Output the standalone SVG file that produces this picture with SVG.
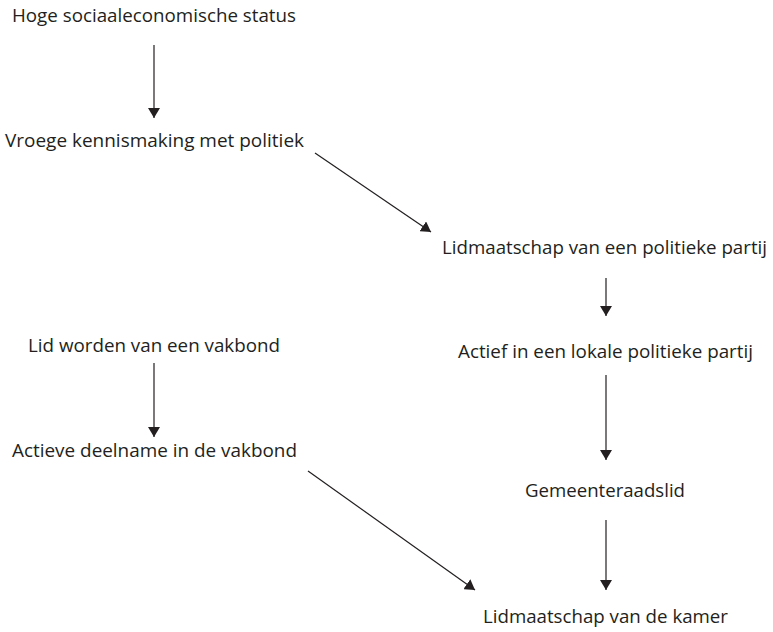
<svg xmlns="http://www.w3.org/2000/svg" width="773" height="632" viewBox="0 0 773 632">
<style>
  text { font-family: "Open Sans", "Noto Sans", "Liberation Sans", sans-serif; font-size: 18px; fill: #231f20; }
  .c line { stroke: #231f20; stroke-width: 1.2; fill: none; }
</style>
<defs>
  <marker id="ah" viewBox="0 0 10 12" refX="10" refY="6" markerWidth="10" markerHeight="12" markerUnits="userSpaceOnUse" orient="auto">
    <path d="M0,0 L10,6 L0,12 Z" fill="#231f20"/>
  </marker>
</defs>
<rect width="773" height="632" fill="#ffffff"/>
<g id="n1"><text x="12" y="22" textLength="284" lengthAdjust="spacingAndGlyphs">Hoge sociaaleconomische status</text></g>
<g id="n2"><text x="5" y="147" textLength="299" lengthAdjust="spacingAndGlyphs">Vroege kennismaking met politiek</text></g>
<g id="n3"><text x="442" y="254" textLength="325" lengthAdjust="spacingAndGlyphs">Lidmaatschap van een politieke partij</text></g>
<g id="n4"><text x="458" y="358" textLength="295" lengthAdjust="spacingAndGlyphs">Actief in een lokale politieke partij</text></g>
<g id="n5"><text x="28" y="352" textLength="252" lengthAdjust="spacingAndGlyphs">Lid worden van een vakbond</text></g>
<g id="n6"><text x="12" y="457" textLength="285" lengthAdjust="spacingAndGlyphs">Actieve deelname in de vakbond</text></g>
<g id="n7"><text x="525" y="497" textLength="160" lengthAdjust="spacingAndGlyphs">Gemeenteraadslid</text></g>
<g id="n8"><text x="483" y="623" textLength="245" lengthAdjust="spacingAndGlyphs">Lidmaatschap van de kamer</text></g>
<g id="connectors" class="c">
  <line x1="154" y1="45" x2="154" y2="118" marker-end="url(#ah)"/>
  <line x1="315" y1="153" x2="431" y2="232" marker-end="url(#ah)"/>
  <line x1="606" y1="278" x2="606" y2="316" marker-end="url(#ah)"/>
  <line x1="154" y1="363" x2="154" y2="437" marker-end="url(#ah)"/>
  <line x1="308" y1="471" x2="475" y2="590" marker-end="url(#ah)"/>
  <line x1="606" y1="375" x2="606" y2="460" marker-end="url(#ah)"/>
  <line x1="606" y1="520" x2="606" y2="590" marker-end="url(#ah)"/>
</g>
</svg>
